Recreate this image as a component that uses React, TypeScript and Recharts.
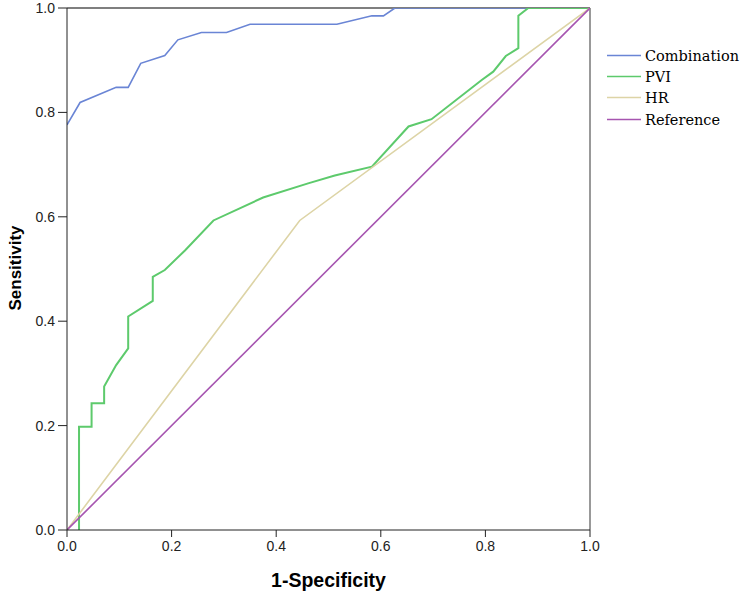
import React from 'react';
import { LineChart, Line, XAxis, YAxis, ReferenceLine, Legend } from 'recharts';

const seriesNames = ['Combination', 'PVI', 'HR', 'Reference'];
const seriesColors = ['#6a85d5', '#5dca6c', '#ddd4a6', '#a655b0'];

const combinationX = [0, 0.025, 0.094, 0.117, 0.141, 0.187, 0.212, 0.257, 0.305, 0.35, 0.516, 0.583, 0.605, 0.627, 1];
const combinationY = [0.776, 0.819, 0.848, 0.848, 0.894, 0.909, 0.939, 0.953, 0.953, 0.969, 0.969, 0.985, 0.985, 1, 1];

const pviX = [0.023, 0.023, 0.047, 0.047, 0.071, 0.071, 0.094, 0.117, 0.117, 0.164, 0.164, 0.187, 0.226, 0.28, 0.375, 0.461, 0.512, 0.583, 0.653, 0.697, 0.793, 0.815, 0.839, 0.863, 0.863, 0.882, 1];
const pviY = [0, 0.198, 0.198, 0.243, 0.243, 0.275, 0.316, 0.348, 0.409, 0.439, 0.485, 0.498, 0.536, 0.593, 0.637, 0.664, 0.679, 0.696, 0.773, 0.787, 0.862, 0.878, 0.908, 0.923, 0.985, 1, 1];

const hrX = [0, 0.445, 1];
const hrY = [0, 0.593, 1];

const referenceX = [0, 1];
const referenceY = [0, 1];

const axisTicks = [0, 0.2, 0.4, 0.6, 0.8, 1.0];

const toPoints = (xs: number[], ys: number[]) => xs.map((x, i) => ({ x, y: ys[i] }));

const seriesData = [
  toPoints(combinationX, combinationY),
  toPoints(pviX, pviY),
  toPoints(hrX, hrY),
  toPoints(referenceX, referenceY),
];

const renderLegend = (props: any) => {
  const payload: any[] = (props && props.payload) || [];
  const items = seriesNames.map((n, i) => {
    const p = payload.find((q: any) => q.value === n);
    return { name: n, color: p && p.color ? p.color : seriesColors[i] };
  });
  return (
    <div style={{ fontFamily: '"DejaVu Serif", serif', fontSize: 14.5, color: '#000' }}>
      {items.map((it) => (
        <div key={it.name} style={{ display: 'flex', alignItems: 'center', height: 21.3 }}>
          <svg width={38} height={20} style={{ display: 'block' }}>
            <line x1={0} y1={9.5} x2={34} y2={9.5} stroke={it.color} strokeWidth={1.5} />
          </svg>
          <span style={{ lineHeight: '20px' }}>{it.name}</span>
        </div>
      ))}
    </div>
  );
};

const tickStyle = { fontFamily: '"Liberation Sans", Arial, sans-serif', fontSize: 14, fill: '#222' };

export default function App() {
  return (
    <div style={{ position: 'absolute', left: 0, top: 0, background: '#fff' }}>
      <LineChart width={742} height={597} margin={{ top: 8, right: 17, bottom: 0, left: 0 }}>
        <XAxis
          type="number"
          dataKey="x"
          domain={[0, 1]}
          ticks={axisTicks}
          tickFormatter={(v: number) => v.toFixed(1)}
          allowDataOverflow
          height={67}
          tickSize={7}
          tickMargin={4}
          stroke="#222"
          tick={tickStyle}
          label={{
            value: '1-Specificity',
            position: 'insideBottom',
            offset: 10,
            style: { fontFamily: '"Liberation Sans", Arial, sans-serif', fontSize: 19.5, fontWeight: 'bold', fill: '#000' },
          }}
        />
        <YAxis
          type="number"
          dataKey="y"
          domain={[0, 1]}
          ticks={axisTicks}
          tickFormatter={(v: number) => v.toFixed(1)}
          allowDataOverflow
          width={67}
          tickSize={9}
          tickMargin={3}
          stroke="#222"
          tick={tickStyle}
          label={{
            value: 'Sensitivity',
            angle: -90,
            position: 'insideLeft',
            offset: 15,
            dy: -1,
            style: { textAnchor: 'middle', fontFamily: '"Liberation Sans", Arial, sans-serif', fontSize: 17, fontWeight: 'bold', fill: '#000' },
          }}
        />
        <ReferenceLine y={1} stroke="#555" strokeWidth={1.5} />
        <ReferenceLine x={1} stroke="#777" strokeWidth={1.5} />
        {seriesNames.map((name, i) => (
          <Line
            key={name}
            name={name}
            data={seriesData[i]}
            dataKey="y"
            type="linear"
            stroke={seriesColors[i]}
            strokeWidth={i === 1 ? 2 : 1.6}
            dot={false}
            activeDot={false}
            isAnimationActive={false}
          />
        ))}
        <Legend
          content={renderLegend}
          layout="vertical"
          align="right"
          verticalAlign="top"
          wrapperStyle={{ position: 'absolute', left: 607, top: 45, width: 135 }}
        />
      </LineChart>
    </div>
  );
}
